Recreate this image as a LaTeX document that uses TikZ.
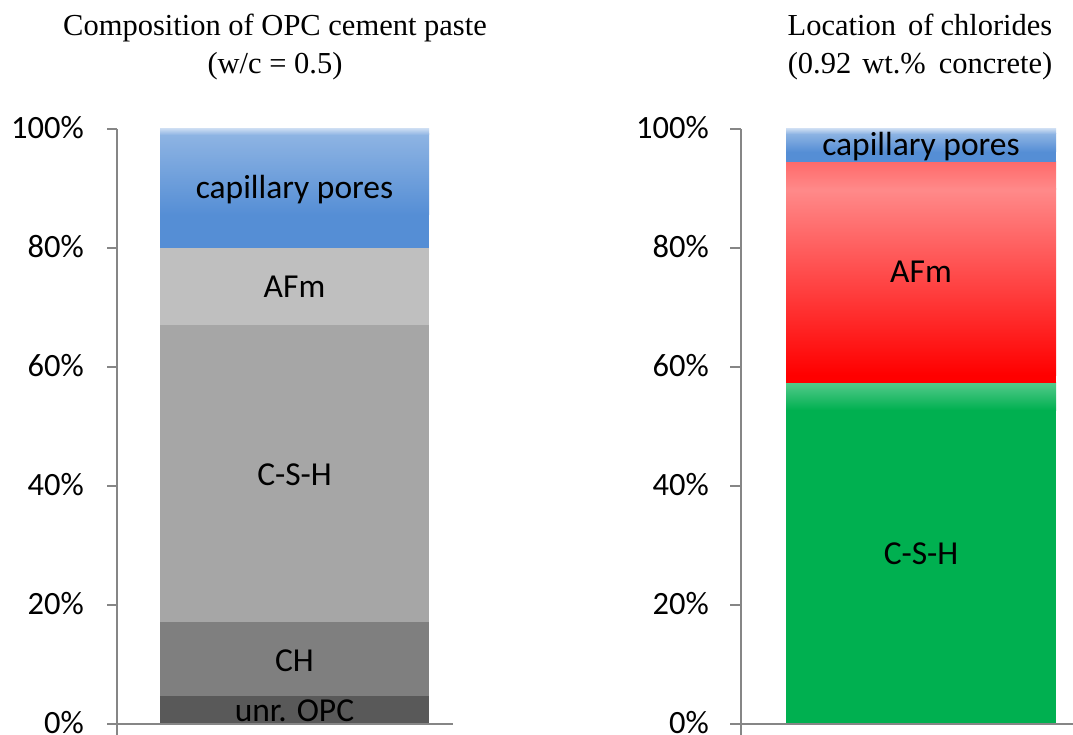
\documentclass[tikz,border=0pt]{standalone}
\usepackage{fontspec}
\setmainfont{Liberation Serif}
\newfontfamily\calibrifont{Carlito}
\definecolor{axisgray}{HTML}{868686}
\definecolor{blueTop}{HTML}{C6D9F1}
\definecolor{blueMid}{HTML}{8EB4E3}
\definecolor{blueBase}{HTML}{558ED5}
\definecolor{cAFm}{HTML}{BFBFBF}
\definecolor{cCSH}{HTML}{A6A6A6}
\definecolor{cCH}{HTML}{7F7F7F}
\definecolor{cOPC}{HTML}{595959}
\definecolor{redTop}{HTML}{FF6A6A}
\definecolor{redLight}{HTML}{FF8A8A}
\definecolor{redBase}{HTML}{FF0000}
\definecolor{greenTop}{HTML}{55CA8C}
\definecolor{greenBase}{HTML}{00B050}
\begin{document}
\begin{tikzpicture}[x=1pt,y=-1pt]
\tikzset{
  axisline/.style={draw=axisgray,line width=2pt},
  ticklab/.style={anchor=base east,inner sep=0pt,font=\calibrifont\fontsize{32.5}{36}\selectfont},
  barlab/.style={anchor=base,inner sep=0pt,font=\calibrifont\fontsize{33.5}{38}\selectfont},
  titlelab/.style={anchor=base,inner sep=0pt,font=\fontsize{30.5}{36}\selectfont}
}
\fill[white] (0,0) rectangle (1073,735);
\useasboundingbox (0,0) rectangle (1073,735);

% ---------- titles ----------
\node[titlelab] (t1a) at (275,36) {Composition of OPC cement paste};
\node[titlelab] (t1b) at (275,74) {(w/c = 0.5)};
\node[titlelab] (t2a) at (920,36) {Location\hspace{12pt}of\hspace{7pt}chlorides};
\node[titlelab] (t2b) at (920,74) {(0.92\hspace{11pt}wt.\%\hspace{13pt}concrete)};

% ---------- left bar ----------
\fill[blueBase] (160,129) rectangle (429,248);
\shade[top color=blueMid,bottom color=blueBase] (160,134) rectangle (429,215);
\shade[top color=blueTop,bottom color=blueMid] (160,129) rectangle (429,135);
\fill[cAFm] (160,247.6) rectangle (429,325.2);
\fill[cCSH] (160,325.2) rectangle (429,622.4);
\fill[cCH] (160,622.4) rectangle (429,696);
\fill[cOPC] (160,696) rectangle (429,723.5);

\node[barlab] (l1) at (294.5,199) {capillary pores};
\node[barlab] (l2) at (294.5,298) {AFm};
\node[barlab] (l3) at (294.5,485) {C-S-H};
\node[barlab] (l4) at (294.5,671) {CH};
\node[barlab] (l5) at (294.5,721) {unr. OPC};

% ---------- left axes ----------
\draw[axisline] (117,129) -- (117,735);
\draw[axisline] (107,723.5) -- (453,723.5);
\foreach \yy in {129,247.9,366.8,485.7,604.6}{
  \draw[axisline] (107,\yy) -- (117,\yy);
}
\node[ticklab] (la100) at (84,139) {100\%};
\node[ticklab] (la80) at (84,257.9) {80\%};
\node[ticklab] (la60) at (84,376.8) {60\%};
\node[ticklab] (la40) at (84,495.7) {40\%};
\node[ticklab] (la20) at (84,614.6) {20\%};
\node[ticklab] (la0) at (84,733.5) {0\%};

% ---------- right bar ----------
\fill[greenBase] (786,382) rectangle (1056,723.5);
\shade[top color=greenTop,bottom color=greenBase] (786,382.3) rectangle (1056,410);
\fill[redBase] (786,161.5) rectangle (1056,382.5);
\shade[top color=redLight,bottom color=redBase] (786,189) rectangle (1056,375);
\shade[top color=redTop,bottom color=redLight] (786,161.7) rectangle (1056,190);
\fill[blueBase] (786,129) rectangle (1056,161.7);
\shade[top color=blueMid,bottom color=blueBase] (786,133.5) rectangle (1056,152);
\shade[top color=blueTop,bottom color=blueMid] (786,129) rectangle (1056,134);

\node[barlab] (r1) at (921,156) {capillary pores};
\node[barlab] (r2) at (921,283) {AFm};
\node[barlab] (r3) at (921,564) {C-S-H};

% ---------- right axes ----------
\draw[axisline] (740.7,129) -- (740.7,735);
\draw[axisline] (730,723.5) -- (1073,723.5);
\foreach \yy in {129,247.9,366.8,485.7,604.6}{
  \draw[axisline] (730,\yy) -- (740.7,\yy);
}
\node[ticklab] (ra100) at (709,139) {100\%};
\node[ticklab] (ra80) at (709,257.9) {80\%};
\node[ticklab] (ra60) at (709,376.8) {60\%};
\node[ticklab] (ra40) at (709,495.7) {40\%};
\node[ticklab] (ra20) at (709,614.6) {20\%};
\node[ticklab] (ra0) at (709,733.5) {0\%};
\end{tikzpicture}
\end{document}
